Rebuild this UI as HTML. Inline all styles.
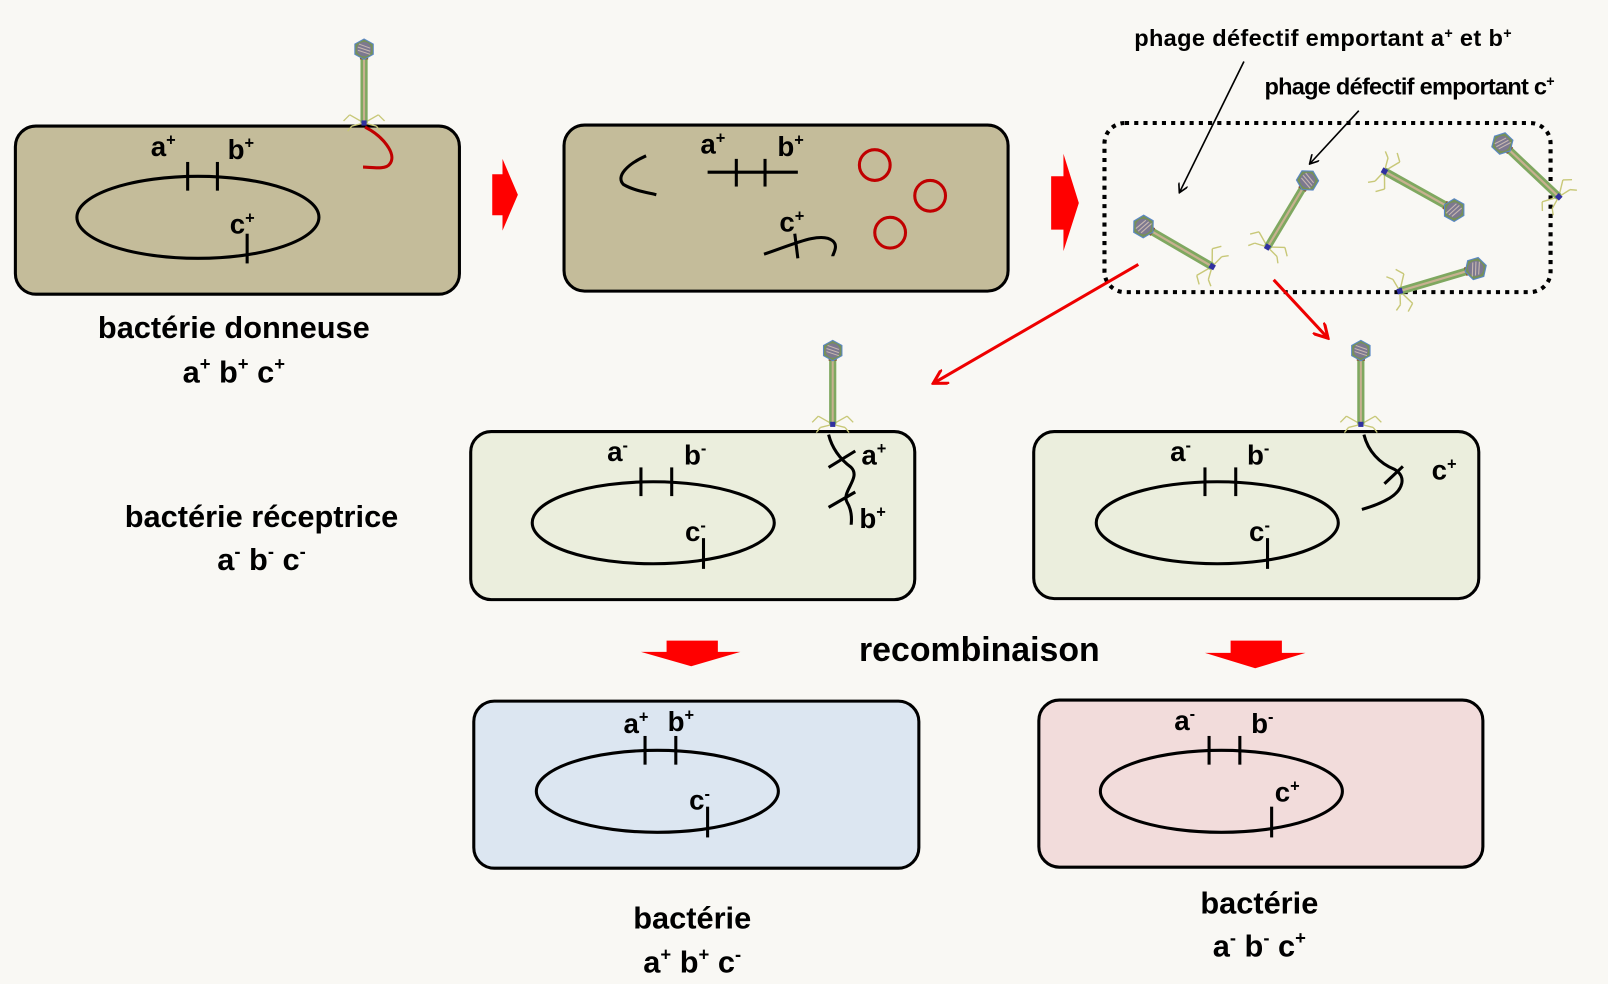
<!DOCTYPE html>
<html><head><meta charset="utf-8"><style>
html,body{margin:0;padding:0;background:#f9f8f4;}
svg{display:block;}
text{font-family:"Liberation Sans",sans-serif;font-weight:bold;fill:#000;}
</style></head><body>
<svg width="1608" height="984" viewBox="0 0 1568 960" preserveAspectRatio="none">
<defs>
<g id="phage">
  <line x1="0" y1="0" x2="-14" y2="-8" stroke="#c8c878" stroke-width="1.3"/>
  <line x1="-14" y1="-8" x2="-20" y2="-2" stroke="#c8c878" stroke-width="1.3"/>
  <line x1="0" y1="0" x2="14" y2="-8" stroke="#c8c878" stroke-width="1.3"/>
  <line x1="14" y1="-8" x2="20" y2="-2" stroke="#c8c878" stroke-width="1.3"/>
  <line x1="0" y1="0" x2="-12" y2="3" stroke="#c8c878" stroke-width="1.3"/>
  <line x1="-12" y1="3" x2="-16" y2="8" stroke="#c8c878" stroke-width="1.3"/>
  <line x1="0" y1="0" x2="12" y2="3" stroke="#c8c878" stroke-width="1.3"/>
  <line x1="12" y1="3" x2="16" y2="8" stroke="#c8c878" stroke-width="1.3"/>
  <rect x="-3.5" y="-64" width="7" height="64" fill="#7fa860"/>
  <rect x="-1" y="-64" width="2" height="64" fill="#c8b090"/>
  <rect x="-4" y="-65" width="8" height="3" fill="#8a5a30"/>
  <polygon points="0,-82 9,-77 9,-67 0,-62 -9,-67 -9,-77" fill="#76905a" stroke="#5a88c8" stroke-width="1"/>
  <circle cx="0" cy="-72" r="7" fill="#7c7890"/>
  <line x1="-6" y1="-74" x2="6" y2="-70" stroke="#c8b8b0" stroke-width="1"/>
  <line x1="-6" y1="-71" x2="6" y2="-67" stroke="#c8b8b0" stroke-width="1"/>
  <line x1="-5" y1="-77" x2="6" y2="-73" stroke="#c8b8b0" stroke-width="1"/>
  <rect x="-2.5" y="-2.5" width="5" height="5" fill="#3030a0"/>
</g>
<marker id="ah" markerWidth="10" markerHeight="10" refX="9" refY="5" orient="auto" markerUnits="userSpaceOnUse"><path d="M0,0 L9,5 L0,10" fill="none" stroke="#000" stroke-width="1.6"/></marker>
<marker id="rah" markerWidth="16" markerHeight="16" refX="14" refY="8" orient="auto" markerUnits="userSpaceOnUse"><path d="M0,0 L14,8 L0,16" fill="none" stroke="#e00" stroke-width="3"/></marker>
</defs>

<g>
<rect x="15" y="123" width="433" height="164" rx="20" fill="#c4bc9a" stroke="#000" stroke-width="3"/>
<ellipse cx="193" cy="212" rx="118" ry="40" fill="none" stroke="#000" stroke-width="3"/>
<line x1="183" y1="158" x2="183" y2="186" stroke="#000" stroke-width="3"/>
<line x1="212" y1="158" x2="212" y2="186" stroke="#000" stroke-width="3"/>
<line x1="241" y1="228" x2="241" y2="257" stroke="#000" stroke-width="3"/>
<text x="147" y="152" font-size="27">a<tspan font-size="16" dy="-10">+</tspan></text>
<text x="222" y="155" font-size="27">b<tspan font-size="16" dy="-10">+</tspan></text>
<text x="224" y="228" font-size="27">c<tspan font-size="16" dy="-10">+</tspan></text>
<path d="M356,124 C372,132 388,150 380,160 C376,166 362,163 354,163" fill="none" stroke="#c00000" stroke-width="3"/>
</g>
<use href="#phage" transform="translate(355,120)"/>
<text x="228" y="330" font-size="30" text-anchor="middle">bactérie donneuse</text>
<text x="228" y="373" font-size="30" text-anchor="middle">a<tspan font-size="18" dy="-12">+</tspan><tspan dy="12"> b</tspan><tspan font-size="18" dy="-12">+</tspan><tspan dy="12"> c</tspan><tspan font-size="18" dy="-12">+</tspan></text>

<polygon points="480,170 490,170 490,155 505,190 490,225 490,210 480,210" fill="#f00"/>
<polygon points="1025,172 1037,172 1037,150 1052,198 1037,245 1037,224 1025,224" fill="#f00"/>

<g>
<rect x="550" y="122" width="433" height="162" rx="20" fill="#c4bc9a" stroke="#000" stroke-width="3"/>
<path d="M630,152 C612,160 600,172 608,180 C618,186 632,188 640,190" fill="none" stroke="#000" stroke-width="3"/>
<line x1="690" y1="168" x2="778" y2="168" stroke="#000" stroke-width="3"/>
<line x1="718" y1="155" x2="718" y2="182" stroke="#000" stroke-width="3"/>
<line x1="746" y1="155" x2="746" y2="182" stroke="#000" stroke-width="3"/>
<text x="683" y="150" font-size="27">a<tspan font-size="16" dy="-10">+</tspan></text>
<text x="758" y="152" font-size="27">b<tspan font-size="16" dy="-10">+</tspan></text>
<text x="760" y="226" font-size="27">c<tspan font-size="16" dy="-10">+</tspan></text>
<path d="M745,248 C770,240 800,225 812,235 C818,240 812,248 812,250" fill="none" stroke="#000" stroke-width="3"/>
<line x1="775" y1="228" x2="778" y2="252" stroke="#000" stroke-width="3"/>
<circle cx="853" cy="161" r="15" fill="none" stroke="#c00000" stroke-width="3"/>
<circle cx="907" cy="191" r="15" fill="none" stroke="#c00000" stroke-width="3"/>
<circle cx="868" cy="227" r="15" fill="none" stroke="#c00000" stroke-width="3"/>
</g>

<rect x="1077" y="120" width="435" height="165" rx="20" fill="none" stroke="#000" stroke-width="4" stroke-dasharray="4,5"/>
<g id="cluster"></g>
<text x="1106" y="45" font-size="23" textLength="368">phage défectif emportant a<tspan font-size="14" dy="-8">+</tspan><tspan dy="8"> et b</tspan><tspan font-size="14" dy="-8">+</tspan></text>
<text x="1233" y="92" font-size="23" textLength="283">phage défectif emportant c<tspan font-size="14" dy="-8">+</tspan></text>
<line x1="1213" y1="60" x2="1150" y2="188" stroke="#000" stroke-width="1.6" marker-end="url(#ah)"/>
<line x1="1325" y1="108" x2="1277" y2="160" stroke="#000" stroke-width="1.6" marker-end="url(#ah)"/>
<line x1="1110" y1="258" x2="910" y2="374" stroke="#e00" stroke-width="3" marker-end="url(#rah)"/>
<line x1="1242" y1="273" x2="1295" y2="330" stroke="#e00" stroke-width="3" marker-end="url(#rah)"/>

<g>
<rect x="459" y="421" width="433" height="164" rx="20" fill="#ebeedd" stroke="#000" stroke-width="3"/>
<ellipse cx="637" cy="510" rx="118" ry="40" fill="none" stroke="#000" stroke-width="3"/>
<line x1="625" y1="456" x2="625" y2="484" stroke="#000" stroke-width="3"/>
<line x1="655" y1="456" x2="655" y2="484" stroke="#000" stroke-width="3"/>
<line x1="686" y1="525" x2="686" y2="555" stroke="#000" stroke-width="3"/>
<text x="592" y="450" font-size="27">a<tspan font-size="16" dy="-10">-</tspan></text>
<text x="667" y="453" font-size="27">b<tspan font-size="16" dy="-10">-</tspan></text>
<text x="668" y="528" font-size="27">c<tspan font-size="16" dy="-10">-</tspan></text>
<path d="M808,424 C812,440 822,450 830,456 C840,466 820,480 826,490 C832,500 830,510 830,512" fill="none" stroke="#000" stroke-width="3"/>
<line x1="808" y1="456" x2="834" y2="440" stroke="#000" stroke-width="3"/>
<line x1="808" y1="495" x2="834" y2="480" stroke="#000" stroke-width="3"/>
<text x="840" y="453" font-size="27">a<tspan font-size="16" dy="-10">+</tspan></text>
<text x="838" y="515" font-size="27">b<tspan font-size="16" dy="-10">+</tspan></text>
</g>
<use href="#phage" transform="translate(812,414)"/>

<g>
<rect x="1008" y="421" width="434" height="163" rx="20" fill="#ebeedd" stroke="#000" stroke-width="3"/>
<ellipse cx="1187" cy="510" rx="118" ry="40" fill="none" stroke="#000" stroke-width="3"/>
<line x1="1175" y1="456" x2="1175" y2="484" stroke="#000" stroke-width="3"/>
<line x1="1205" y1="456" x2="1205" y2="484" stroke="#000" stroke-width="3"/>
<line x1="1236" y1="525" x2="1236" y2="555" stroke="#000" stroke-width="3"/>
<text x="1141" y="450" font-size="27">a<tspan font-size="16" dy="-10">-</tspan></text>
<text x="1216" y="453" font-size="27">b<tspan font-size="16" dy="-10">-</tspan></text>
<text x="1218" y="528" font-size="27">c<tspan font-size="16" dy="-10">-</tspan></text>
<path d="M1330,424 C1334,440 1345,452 1360,458 C1372,465 1368,478 1355,486 C1345,492 1335,495 1328,497" fill="none" stroke="#000" stroke-width="3"/>
<line x1="1350" y1="472" x2="1368" y2="455" stroke="#000" stroke-width="3"/>
<text x="1396" y="468" font-size="27">c<tspan font-size="16" dy="-10">+</tspan></text>
</g>
<use href="#phage" transform="translate(1327,414)"/>

<text x="255" y="514" font-size="30" text-anchor="middle">bactérie réceptrice</text>
<text x="255" y="556" font-size="30" text-anchor="middle">a<tspan font-size="18" dy="-12">-</tspan><tspan dy="12"> b</tspan><tspan font-size="18" dy="-12">-</tspan><tspan dy="12"> c</tspan><tspan font-size="18" dy="-12">-</tspan></text>

<polygon points="650,625 700,625 700,636 722,636 674,650 625,636 650,636" fill="#f00"/>
<polygon points="1200,625 1250,625 1250,637 1273,637 1224,652 1175,637 1200,637" fill="#f00"/>
<text x="955" y="645" font-size="33" text-anchor="middle">recombinaison</text>

<g>
<rect x="462" y="684" width="434" height="163" rx="20" fill="#dce6f1" stroke="#000" stroke-width="3"/>
<ellipse cx="641" cy="772" rx="118" ry="40" fill="none" stroke="#000" stroke-width="3"/>
<line x1="629" y1="718" x2="629" y2="746" stroke="#000" stroke-width="3"/>
<line x1="659" y1="718" x2="659" y2="746" stroke="#000" stroke-width="3"/>
<line x1="690" y1="787" x2="690" y2="817" stroke="#000" stroke-width="3"/>
<text x="608" y="715" font-size="27">a<tspan font-size="16" dy="-10">+</tspan></text>
<text x="651" y="713" font-size="27">b<tspan font-size="16" dy="-10">+</tspan></text>
<text x="672" y="790" font-size="27">c<tspan font-size="16" dy="-10">-</tspan></text>
</g>
<text x="675" y="906" font-size="30" text-anchor="middle">bactérie</text>
<text x="675" y="949" font-size="30" text-anchor="middle">a<tspan font-size="18" dy="-12">+</tspan><tspan dy="12"> b</tspan><tspan font-size="18" dy="-12">+</tspan><tspan dy="12"> c</tspan><tspan font-size="18" dy="-12">-</tspan></text>

<g>
<rect x="1013" y="683" width="433" height="163" rx="20" fill="#f2dcdb" stroke="#000" stroke-width="3"/>
<ellipse cx="1191" cy="772" rx="118" ry="40" fill="none" stroke="#000" stroke-width="3"/>
<line x1="1179" y1="718" x2="1179" y2="746" stroke="#000" stroke-width="3"/>
<line x1="1209" y1="718" x2="1209" y2="746" stroke="#000" stroke-width="3"/>
<line x1="1240" y1="787" x2="1240" y2="817" stroke="#000" stroke-width="3"/>
<text x="1145" y="712" font-size="27">a<tspan font-size="16" dy="-10">-</tspan></text>
<text x="1220" y="715" font-size="27">b<tspan font-size="16" dy="-10">-</tspan></text>
<text x="1243" y="782" font-size="27">c<tspan font-size="16" dy="-10">+</tspan></text>
</g>
<text x="1228" y="891" font-size="30" text-anchor="middle">bactérie</text>
<text x="1228" y="933" font-size="30" text-anchor="middle">a<tspan font-size="18" dy="-12">-</tspan><tspan dy="12"> b</tspan><tspan font-size="18" dy="-12">-</tspan><tspan dy="12"> c</tspan><tspan font-size="18" dy="-12">+</tspan></text>
</svg>
<script>
const phageBases=[[1182,260],[1236,241],[1350,167],[1520,192],[1365,284]];
const phageHeads=[[1115,221],[1275,176],[1418,205],[1465,140],[1439,262]];
const ns="http://www.w3.org/2000/svg";
const cl=document.getElementById('cluster');
phageBases.forEach((b,i)=>{
  const h=phageHeads[i];
  const dx=h[0]-b[0],dy=h[1]-b[1];
  const len=Math.hypot(dx,dy);
  const ang=Math.atan2(dx,-dy)*180/Math.PI;
  const u=document.createElementNS(ns,'use');
  u.setAttribute('href','#phage');
  u.setAttribute('transform','translate('+b[0]+','+b[1]+') rotate('+ang+') scale('+(len/72)+')');
  
  
  cl.appendChild(u);
});
</script>
</body></html>
